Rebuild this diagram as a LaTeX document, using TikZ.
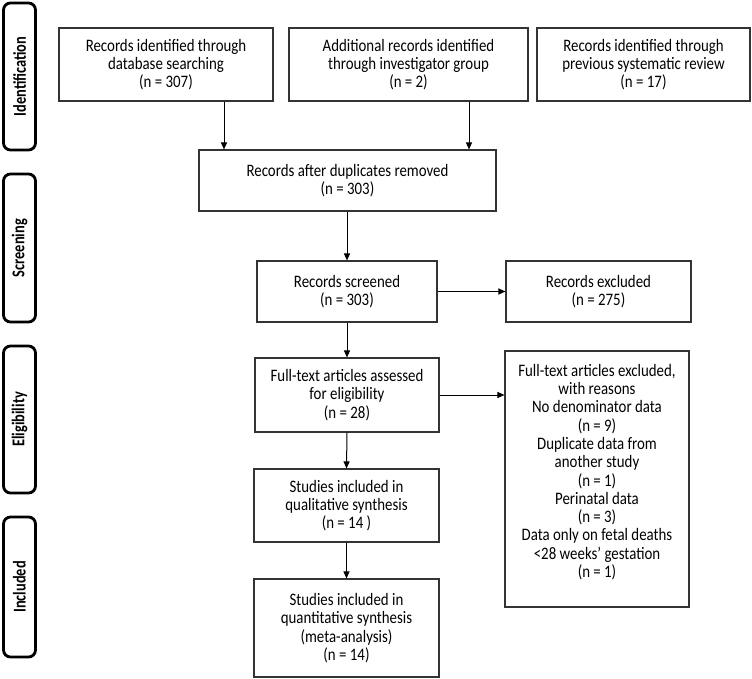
\documentclass[tikz,border=0pt]{standalone}
\usepackage{fontspec}
\setmainfont{Carlito}
\newfontfamily\boxfont{Carlito}[FakeStretch=0.85]
\newfontfamily\phasefont{Carlito}[FakeStretch=0.8]
\usetikzlibrary{arrows.meta}
\begin{document}
\begin{tikzpicture}[x=1pt,y=-1pt,
  box/.style={draw=black!80,line width=1.1pt,align=center,inner sep=0pt,
    font=\boxfont\fontsize{17.5}{18.3}\selectfont},
  phase/.style={draw=black,line width=2.8pt,rounded corners=7pt,minimum width=32pt,
    inner sep=0pt,font=\phasefont\bfseries\fontsize{18}{20}\selectfont},
  arr/.style={line width=1pt,-{Triangle[length=7pt,width=6pt]}}]
\useasboundingbox (0,0) rectangle (752,679);
% phase labels
\node[phase,minimum height=147pt] (pid) at (19.5,76.5) {\rotatebox{90}{Identification}};
\node[phase,minimum height=148pt] (psc) at (19.5,248) {\rotatebox{90}{Screening}};
\node[phase,minimum height=147pt] (pel) at (19.5,419.5) {\rotatebox{90}{Eligibility}};
\node[phase,minimum height=140pt] (pin) at (19.5,587) {\rotatebox{90}{Included}};
% boxes
\node[box,minimum width=214pt,minimum height=73pt] (b1) at (166,64.5)
  {Records identified through\\database searching\\(n = 307)};
\node[box,minimum width=239pt,minimum height=73pt] (b2) at (408.5,64.5)
  {Additional records identified\\through investigator group\\(n = 2)};
\node[box,minimum width=213pt,minimum height=73pt] (b3) at (643.5,64.5)
  {Records identified through\\previous systematic review\\(n = 17)};
\node[box,minimum width=297pt,minimum height=61pt] (b4) at (347.5,180.5)
  {Records after duplicates removed\\(n = 303)};
\node[box,minimum width=180pt,minimum height=61pt] (b5) at (347,291.5)
  {Records screened\\(n = 303)};
\node[box,minimum width=185pt,minimum height=61pt] (b6) at (598.5,291.5)
  {Records excluded\\(n = 275)};
\node[box,minimum width=184pt,minimum height=74pt] (b7) at (347,395)
  {Full-text articles assessed\\for eligibility\\(n = 28)};
\node[box,minimum width=184pt,minimum height=256pt] (b8) at (597,479) {};
\node[box,draw=none,anchor=center] (b8t) at ([yshift=7pt]b8.center)
  {Full-text articles excluded,\\with reasons\\No denominator data\\(n = 9)\\Duplicate data from\\another study\\(n = 1)\\Perinatal data\\(n = 3)\\Data only on fetal deaths\\<28 weeks’ gestation\\(n = 1)};
\node[box,minimum width=185pt,minimum height=73pt] (b9) at (346.5,505.5)
  {Studies included in\\qualitative synthesis\\(n = 14 )};
\node[box,minimum width=185pt,minimum height=98pt] (b10) at (346.5,628)
  {Studies included in\\quantitative synthesis\\(meta-analysis)\\(n = 14)};
% arrows
\draw[arr] ([xshift=58pt]b1.south) -- ([xshift=58pt]b1.south |- b4.north);
\draw[arr] ([xshift=60.5pt]b2.south) -- ([xshift=60.5pt]b2.south |- b4.north);
\draw[arr] (b4.south -| b5.north) -- (b5.north);
\draw[arr] (b5.east) -- (b5.east -| b6.west);
\draw[arr] (b5.south) -- (b7.north);
\draw[arr] (b7.east) -- (b7.east -| b8.west);
\draw[arr] (b7.south) -- (b9.north);
\draw[arr] (b9.south) -- (b10.north);
\end{tikzpicture}
\end{document}
